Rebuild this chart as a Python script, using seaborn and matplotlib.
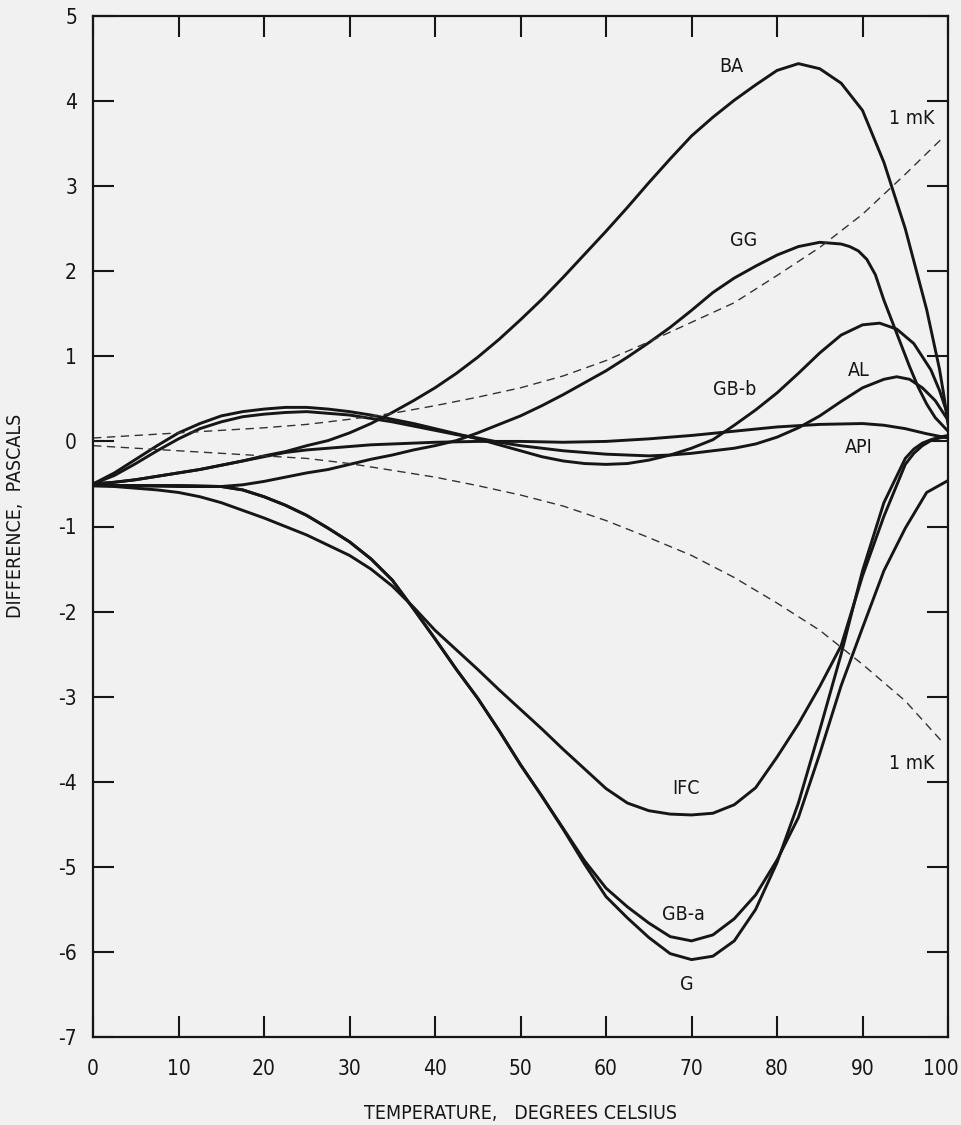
import numpy as np
import pandas as pd
import matplotlib
matplotlib.use('Agg')
import matplotlib.pyplot as plt
import matplotlib.transforms as mtrans
import seaborn as sns

# values: temperature (deg C) and difference (Pa)
ba_t = [0, 2.5, 5, 7.5, 10, 12.5, 15, 17.5, 20, 22.5, 25, 27.5, 30, 32.5, 35, 37.5, 40, 42.5, 45, 47.5,
        50, 52.5, 55, 57.5, 60, 62.5, 65, 67.5, 70, 72.5, 75, 77.5, 80, 82.5, 85, 87.5, 90, 92.5, 95, 97.5,
        99, 99.5, 100]
ba_p = [-0.50, -0.48, -0.45, -0.41, -0.37, -0.33, -0.28, -0.23, -0.17, -0.12, -0.05, 0.01, 0.10, 0.21, 0.34,
        0.48, 0.63, 0.80, 0.99, 1.20, 1.43, 1.67, 1.93, 2.20, 2.47, 2.75, 3.04, 3.32, 3.59, 3.81, 4.01, 4.19,
        4.36, 4.44, 4.38, 4.21, 3.89, 3.28, 2.50, 1.55, 0.85, 0.55, 0.20]

gg_t = [0, 5, 10, 15, 17.5, 20, 22.5, 25, 27.5, 30, 32.5, 35, 37.5, 40, 42.5, 45, 47.5, 50, 52.5, 55,
        57.5, 60, 62.5, 65, 67.5, 70, 72.5, 75, 77.5, 80, 82.5, 85, 87.5, 88.5, 89.5, 90.5, 91.5, 92.5, 93.5,
        94.5, 95.5, 96.5, 97.5, 98.5, 100]
gg_p = [-0.52, -0.52, -0.53, -0.53, -0.51, -0.47, -0.42, -0.37, -0.33, -0.27, -0.21, -0.16, -0.10, -0.05, 0.01,
        0.10, 0.20, 0.30, 0.42, 0.55, 0.69, 0.83, 0.99, 1.16, 1.34, 1.54, 1.75, 1.92, 2.06, 2.19, 2.29, 2.34,
        2.32, 2.29, 2.24, 2.14, 1.96, 1.66, 1.40, 1.14, 0.88, 0.64, 0.44, 0.28, 0.12]

gbb_t = [0, 2.5, 5, 7.5, 10, 12.5, 15, 17.5, 20, 22.5, 25, 27.5, 30, 32.5, 35, 37.5, 40, 42.5, 45, 47.5,
         50, 52.5, 55, 57.5, 60, 62.5, 65, 67.5, 70, 72.5, 75, 77.5, 80, 82.5, 85, 87.5, 90, 92, 94, 96,
         98, 99, 100]
gbb_p = [-0.50, -0.37, -0.21, -0.05, 0.10, 0.21, 0.30, 0.35, 0.38, 0.40, 0.40, 0.38, 0.35, 0.31, 0.26, 0.21,
         0.15, 0.09, 0.03, -0.04, -0.11, -0.18, -0.23, -0.26, -0.27, -0.26, -0.22, -0.16, -0.08, 0.02, 0.19,
         0.37, 0.57, 0.80, 1.04, 1.25, 1.37, 1.39, 1.32, 1.15, 0.84, 0.60, 0.30]

al_t = [0, 2.5, 5, 7.5, 10, 12.5, 15, 17.5, 20, 22.5, 25, 27.5, 30, 32.5, 35, 37.5, 40, 42.5, 45, 47.5,
        50, 52.5, 55, 57.5, 60, 62.5, 65, 67.5, 70, 72.5, 75, 77.5, 80, 82.5, 85, 87.5, 90, 92.5, 94, 95.5,
        97, 98.5, 100]
al_p = [-0.50, -0.40, -0.26, -0.11, 0.03, 0.15, 0.23, 0.29, 0.32, 0.34, 0.35, 0.33, 0.31, 0.27, 0.23, 0.18,
        0.13, 0.08, 0.04, -0.01, -0.05, -0.08, -0.11, -0.13, -0.15, -0.16, -0.17, -0.16, -0.14, -0.11, -0.08,
        -0.03, 0.05, 0.16, 0.30, 0.47, 0.63, 0.73, 0.76, 0.73, 0.63, 0.48, 0.25]

api_t = [0, 2.5, 5, 7.5, 10, 12.5, 15, 17.5, 20, 22.5, 25, 27.5, 30, 32.5, 35, 40, 45, 50, 55, 60,
         65, 70, 75, 80, 85, 90, 92.5, 95, 97.5, 100]
api_p = [-0.50, -0.48, -0.45, -0.41, -0.37, -0.33, -0.28, -0.23, -0.18, -0.13, -0.10, -0.08, -0.06, -0.04,
         -0.03, -0.01, 0.00, 0.00, -0.01, 0.00, 0.03, 0.07, 0.12, 0.17, 0.20, 0.21, 0.19, 0.15, 0.09, 0.04]

ifc_t = [0, 2.5, 5, 7.5, 10, 12.5, 15, 17.5, 20, 22.5, 25, 27.5, 30, 32.5, 35, 37.5, 40, 42.5, 45, 47.5,
         50, 52.5, 55, 57.5, 60, 62.5, 65, 67.5, 70, 72.5, 75, 77.5, 80, 82.5, 85, 87.5, 90, 92.5, 95, 96,
         97, 98, 99, 100]
ifc_p = [-0.52, -0.53, -0.55, -0.57, -0.60, -0.65, -0.72, -0.81, -0.90, -1.00, -1.10, -1.22, -1.34, -1.50,
         -1.70, -1.95, -2.22, -2.45, -2.68, -2.92, -3.15, -3.38, -3.62, -3.85, -4.08, -4.25, -4.34, -4.38,
         -4.39, -4.37, -4.27, -4.07, -3.71, -3.32, -2.88, -2.40, -1.58, -0.88, -0.27, -0.14, -0.05, 0.01,
         0.04, 0.06]

gba_t = [0, 5, 10, 15, 17.5, 20, 22.5, 25, 27.5, 30, 32.5, 35, 37.5, 40, 42.5, 45, 47.5, 50, 52.5, 55,
         57.5, 60, 62.5, 65, 67.5, 70, 72.5, 75, 77.5, 80, 82.5, 85, 87.5, 90, 92.5, 95, 97.5, 100]
gba_p = [-0.52, -0.52, -0.52, -0.53, -0.57, -0.65, -0.75, -0.87, -1.02, -1.18, -1.38, -1.63, -1.97, -2.32,
         -2.68, -3.02, -3.40, -3.80, -4.17, -4.55, -4.93, -5.25, -5.47, -5.66, -5.82, -5.87, -5.80, -5.61,
         -5.33, -4.92, -4.42, -3.67, -2.87, -2.19, -1.52, -1.02, -0.60, -0.46]

g_t = [0, 5, 10, 15, 17.5, 20, 22.5, 25, 27.5, 30, 32.5, 35, 37.5, 40, 42.5, 45, 47.5, 50, 52.5, 55,
       57.5, 60, 62.5, 65, 67.5, 70, 72.5, 75, 77.5, 80, 82.5, 85, 87.5, 90, 92.5, 95, 96, 97, 98, 99, 100]
g_p = [-0.52, -0.52, -0.52, -0.53, -0.57, -0.65, -0.75, -0.87, -1.02, -1.18, -1.38, -1.63, -1.97, -2.32,
       -2.68, -3.02, -3.40, -3.80, -4.17, -4.56, -4.97, -5.35, -5.60, -5.83, -6.02, -6.09, -6.05, -5.87,
       -5.50, -4.95, -4.25, -3.39, -2.50, -1.52, -0.72, -0.20, -0.09, -0.02, 0.02, 0.05, 0.07]

# 1 mK equivalent (dashed)
mk_t = [0, 5, 10, 15, 20, 25, 30, 35, 40, 45, 50, 55, 60, 65, 70, 75, 80, 85, 90, 95, 99.5]
mk_up = [0.04, 0.07, 0.10, 0.13, 0.16, 0.20, 0.26, 0.33, 0.42, 0.52, 0.63, 0.77, 0.95, 1.17, 1.40, 1.63,
         1.95, 2.28, 2.67, 3.14, 3.58]
mk_lo = [-0.05, -0.08, -0.11, -0.14, -0.17, -0.20, -0.26, -0.34, -0.42, -0.52, -0.63, -0.76, -0.93, -1.13,
         -1.34, -1.60, -1.90, -2.22, -2.62, -3.05, -3.55]

sns.set_style('ticks')
plt.rcParams['font.family'] = ['DejaVu Sans']
plt.rcParams['font.stretch'] = 'condensed'
plt.rcParams['axes.unicode_minus'] = False

bg = '#f1f1f1'
ink = '#161616'

fig = plt.figure(figsize=(9.61, 11.25), dpi=100, facecolor=bg)
ax = fig.add_axes([0.0968, 0.0782, 0.8897, 0.9076])
ax.set_facecolor(bg)

for t, p in [(ba_t, ba_p), (gg_t, gg_p), (gbb_t, gbb_p), (al_t, al_p), (api_t, api_p),
             (ifc_t, ifc_p), (gba_t, gba_p), (g_t, g_p)]:
    sns.lineplot(x=t, y=p, ax=ax, color=ink, lw=2.1)

for p in [mk_up, mk_lo]:
    sns.lineplot(x=mk_t, y=p, ax=ax, color='#333333', lw=1.0, ls=(0, (6, 4)))

# curve labels
labels = {'BA': (74.7, 4.41), 'GG': (76.1, 2.36), 'GB-b': (75.0, 0.61), 'AL': (89.6, 0.83),
          'API': (89.5, -0.07), 'IFC': (69.3, -4.08), 'GB-a': (69.0, -5.56), 'G': (69.4, -6.38)}
for name, (x, y) in labels.items():
    ax.text(x, y, name, ha='center', va='center', fontsize=14, color=ink)
ax.text(95.8, 3.80, '1 mK', ha='center', va='center', fontsize=14, color=ink)
ax.text(95.8, -3.78, '1 mK', ha='center', va='center', fontsize=14, color=ink)

ax.set_xlim(0, 100)
ax.set_ylim(-7, 5)
ax.set_xticks(range(0, 101, 10))
ax.set_yticks(range(-7, 6))
ax.tick_params(direction='in', length=15, width=1.5, top=True, right=True,
               labelsize=15, color=ink, labelcolor=ink)
ax.tick_params(axis='x', pad=16)
ax.tick_params(axis='y', pad=11.5)
for s in ax.spines.values():
    s.set_linewidth(1.6)
    s.set_color(ink)

ax.set_xlabel('TEMPERATURE,   DEGREES CELSIUS', fontsize=14, color=ink)
ax.set_ylabel('DIFFERENCE,  PASCALS', fontsize=14, color=ink)
ax.xaxis.set_label_coords(0.5, -0.066)
ax.yaxis.set_label_coords(-0.0795, 0.51)

# nudge the "100" label so it stays inside the figure
last = ax.xaxis.get_major_ticks()[-1].label1
last.set_transform(last.get_transform() + mtrans.ScaledTranslation(-0.07, 0, fig.dpi_scale_trans))

fig.savefig('out.png', dpi=100, facecolor=bg)
